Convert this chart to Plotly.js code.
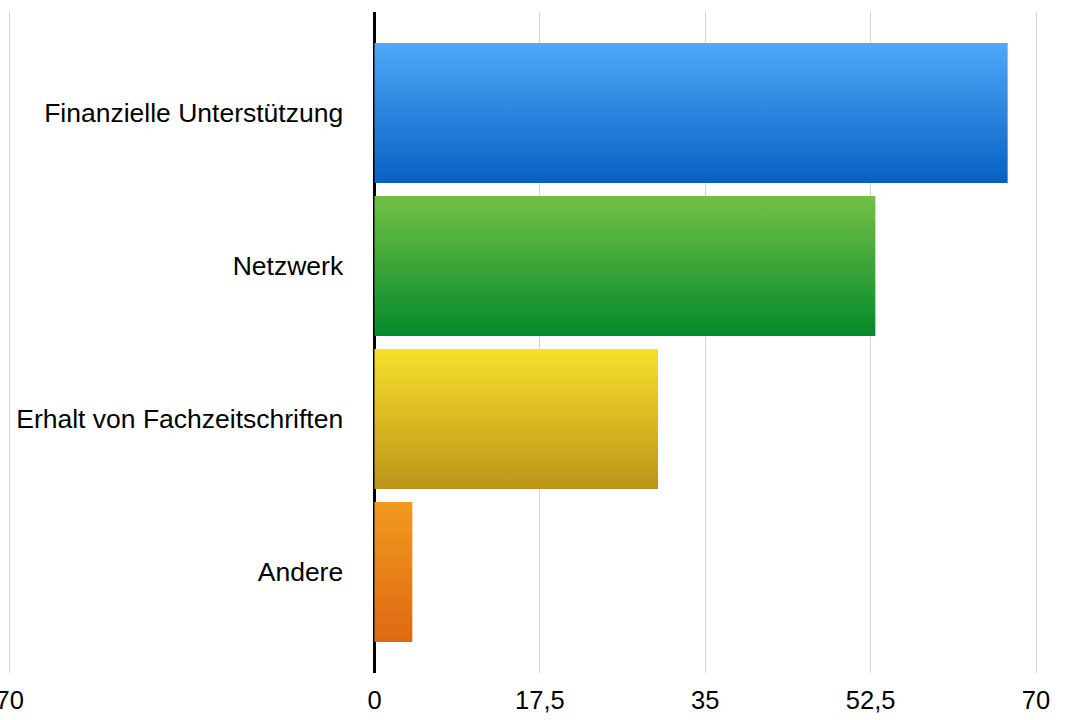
<!DOCTYPE html>
<html>
<head>
<meta charset="utf-8">
<script src="https://cdn.plot.ly/plotly-3.0.1.min.js"></script>
<style>html,body{margin:0;padding:0;background:#fff;}#chart{width:1069px;height:720px;}</style>
</head>
<body>
<div id="chart"></div>
<script>
// Data
var categories = ["Finanzielle Unterstützung", "Netzwerk", "Erhalt von Fachzeitschriften", "Andere"];
var values = [67, 53, 30, 4];
var topColors = ["#4fa8f8", "#72c045", "#f8e02c", "#f19a1f"];
var bottomColors = ["#0661c3", "#058a2c", "#bb9419", "#de6912"];
var xTickVals = [-38.6, 0, 17.5, 35, 52.5, 70];
var xTickText = ["70", "0", "17,5", "35", "52,5", "70"];

var half = 0.457;
var traces = categories.map(function (c, i) {
  var v = values[i];
  return {
    type: "scatter",
    mode: "lines",
    name: c,
    x: [0, v, v, 0, 0],
    y: [i - half, i - half, i + half, i + half, i - half],
    fill: "toself",
    line: { width: 0, color: topColors[i] },
    fillgradient: {
      type: "vertical",
      colorscale: [[0, bottomColors[i]], [1, topColors[i]]]
    },
    hoverinfo: "skip",
    showlegend: false
  };
});

var font = "'Liberation Sans', Arial, Helvetica, sans-serif";
var layout = {
  width: 1069,
  height: 720,
  margin: { l: 0, r: 19, t: 12, b: 47 },
  paper_bgcolor: "#fff",
  plot_bgcolor: "#fff",
  showlegend: false,
  font: { family: font, size: 25, color: "#000" },
  xaxis: {
    range: [-39.63, 71.48],
    tickvals: xTickVals,
    ticktext: xTickText,
    showgrid: true,
    gridcolor: "#d4d4d4",
    gridwidth: 1,
    zeroline: true,
    zerolinecolor: "#000",
    zerolinewidth: 2.5,
    showline: false,
    ticks: "outside",
    ticklen: 4,
    tickcolor: "rgba(0,0,0,0)",
    ticklabeloverflow: "allow",
    tickfont: { family: font, size: 25.5, color: "#000" },
    fixedrange: true
  },
  yaxis: {
    range: [3.66, -0.66],
    tickvals: [0, 1, 2, 3],
    ticktext: categories,
    anchor: "free",
    position: 374.5 / 1050,
    showgrid: false,
    zeroline: false,
    showline: false,
    ticks: "outside",
    ticklen: 26,
    tickcolor: "rgba(0,0,0,0)",
    ticklabeloverflow: "allow",
    tickfont: { family: font, size: 26.5, color: "#000" },
    fixedrange: true
  }
};

Plotly.newPlot("chart", traces, layout, { displayModeBar: false, staticPlot: true });
</script>
</body>
</html>
